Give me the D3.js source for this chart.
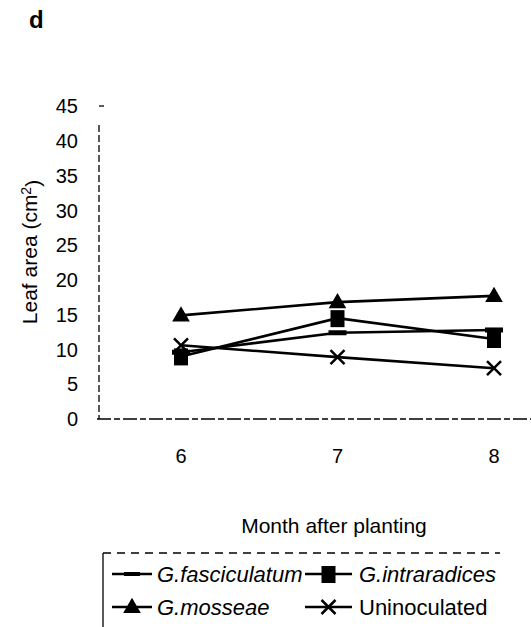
<!DOCTYPE html>
<html>
<head>
<meta charset="utf-8">
<script src="https://cdn.jsdelivr.net/npm/d3@7"></script>
<style>
    body { margin: 0; background: #fff; }
    text { font-family: "Liberation Sans", Arial, sans-serif; fill: #000; }
</style>
</head>
<body>
<script>
// months on the x axis
const months = [6, 7, 8];
const yTicks = [0, 5, 10, 15, 20, 25, 30, 35, 40, 45];

// leaf area per treatment (cm2)
const fasciculatum = [9.6, 12.4, 12.8];
const intraradices = [9.0, 14.5, 11.5];
const mosseae = [14.9, 16.8, 17.7];
const uninoculated = [10.6, 8.9, 7.3];

const seriesNames = ["G.fasciculatum", "G.intraradices", "G.mosseae", "Uninoculated"];
const seriesValues = [fasciculatum, intraradices, mosseae, uninoculated];
const seriesMarks = ["dash", "square", "triangle", "cross"];

window.onload = function () {
    let vis = {};
    vis.width = 531;
    vis.height = 627;

    vis.svg = d3.select("body")
        .append("svg")
        .attr("width", vis.width)
        .attr("height", vis.height);

    //Scales
    vis.x = d3.scalePoint()
        .domain(months)
        .range([181, 494]);

    vis.y = d3.scaleLinear()
        .domain([0, 45])
        .range([419, 106]);

    //Panel letter
    vis.svg.append("text")
        .attr("x", 29)
        .attr("y", 28)
        .style("font-size", "24px")
        .style("font-weight", "bold")
        .text("d");

    //Y axis (dashed, like the scan)
    vis.svg.append("line")
        .attr("x1", 99).attr("x2", 99)
        .attr("y1", 125).attr("y2", vis.y(0))
        .attr("stroke", "#000")
        .attr("stroke-width", 1.3)
        .attr("stroke-dasharray", "7,3");

    vis.svg.append("line")
        .attr("x1", 99).attr("x2", 104)
        .attr("y1", vis.y(45)).attr("y2", vis.y(45))
        .attr("stroke", "#000")
        .attr("stroke-width", 1.3);

    vis.svg.selectAll(".ytick")
        .data(yTicks)
        .enter()
        .append("text")
        .attr("class", "ytick")
        .attr("x", 78)
        .attr("y", d => vis.y(d))
        .attr("dy", "0.36em")
        .attr("text-anchor", "end")
        .style("font-size", "20px")
        .text(d => d);

    //X axis
    vis.svg.append("line")
        .attr("x1", 97).attr("x2", 531)
        .attr("y1", vis.y(0)).attr("y2", vis.y(0))
        .attr("stroke", "#000")
        .attr("stroke-width", 1.6)
        .attr("stroke-dasharray", "14,3,6,3");

    vis.svg.selectAll(".xtick")
        .data(months)
        .enter()
        .append("text")
        .attr("class", "xtick")
        .attr("x", d => vis.x(d))
        .attr("y", 463)
        .attr("text-anchor", "middle")
        .style("font-size", "20px")
        .text(d => d);

    //Axis titles
    vis.svg.append("text")
        .attr("x", 334)
        .attr("y", 533)
        .attr("text-anchor", "middle")
        .style("font-size", "21px")
        .text("Month after planting");

    let yl = vis.svg.append("text")
        .attr("transform", "translate(37,252) rotate(-90)")
        .attr("text-anchor", "middle")
        .style("font-size", "21px");
    yl.append("tspan").text("Leaf area (cm");
    yl.append("tspan").attr("dy", "-0.45em").style("font-size", "14px").text("2");
    yl.append("tspan").attr("dy", "0.45em").text(")");

    //Lines
    const line = d3.line()
        .x((d, i) => vis.x(months[i]))
        .y(d => vis.y(d));

    vis.svg.selectAll(".series")
        .data(seriesValues)
        .enter()
        .append("path")
        .attr("class", "series")
        .attr("d", line)
        .attr("fill", "none")
        .attr("stroke", "#000")
        .attr("stroke-width", 2.6);

    //Markers
    const drawMark = function (g, kind, cx, cy) {
        if (kind == "triangle") {
            g.append("path")
                .attr("d", d3.symbol(d3.symbolTriangle, 135)())
                .attr("transform", "translate(" + cx + "," + (cy + 1) + ")")
                .attr("fill", "#000");
        } else if (kind == "square") {
            g.append("rect")
                .attr("x", cx - 7).attr("y", cy - 8)
                .attr("width", 14).attr("height", 17)
                .attr("fill", "#000");
        } else if (kind == "dash") {
            g.append("rect")
                .attr("x", cx - 9).attr("y", cy - 2.5)
                .attr("width", 18).attr("height", 5)
                .attr("fill", "#000");
        } else {
            g.append("path")
                .attr("d", "M" + (cx - 7) + "," + (cy - 7) + "L" + (cx + 7) + "," + (cy + 7)
                    + "M" + (cx + 7) + "," + (cy - 7) + "L" + (cx - 7) + "," + (cy + 7))
                .attr("stroke", "#000")
                .attr("stroke-width", 2.5);
        }
    };

    let marks = vis.svg.append("g");
    seriesValues.forEach(function (vals, s) {
        vals.forEach(function (v, i) {
            drawMark(marks, seriesMarks[s], vis.x(months[i]), vis.y(v));
        });
    });

    //Legend
    let lg = vis.svg.append("g");
    lg.append("line")
        .attr("x1", 103).attr("x2", 500)
        .attr("y1", 553).attr("y2", 553)
        .attr("stroke", "#000")
        .attr("stroke-width", 1.3)
        .attr("stroke-dasharray", "8,6");
    lg.append("line")
        .attr("x1", 103).attr("x2", 103)
        .attr("y1", 553).attr("y2", 627)
        .attr("stroke", "#000")
        .attr("stroke-width", 1.3);

    const lineX = [112, 305];
    const lineLen = [40, 47];
    const textX = [157, 359];
    const legY = [574, 607];
    seriesNames.forEach(function (name, s) {
        const c = s % 2;
        const ly = legY[Math.floor(s / 2)];
        lg.append("line")
            .attr("x1", lineX[c]).attr("x2", lineX[c] + lineLen[c])
            .attr("y1", ly).attr("y2", ly)
            .attr("stroke", "#000")
            .attr("stroke-width", 2.4);
        if (seriesMarks[s] == "dash") {
            lg.append("rect")
                .attr("x", lineX[c] + 12).attr("y", ly - 2)
                .attr("width", 16).attr("height", 4)
                .attr("fill", "#000");
        } else {
            drawMark(lg, seriesMarks[s], lineX[c] + lineLen[c] / 2, ly);
        }
        lg.append("text")
            .attr("x", textX[c])
            .attr("y", ly)
            .attr("dy", "0.36em")
            .style("font-size", "22px")
            .style("font-style", name.startsWith("G.") ? "italic" : "normal")
            .text(name);
    });
}
</script>
</body>
</html>
